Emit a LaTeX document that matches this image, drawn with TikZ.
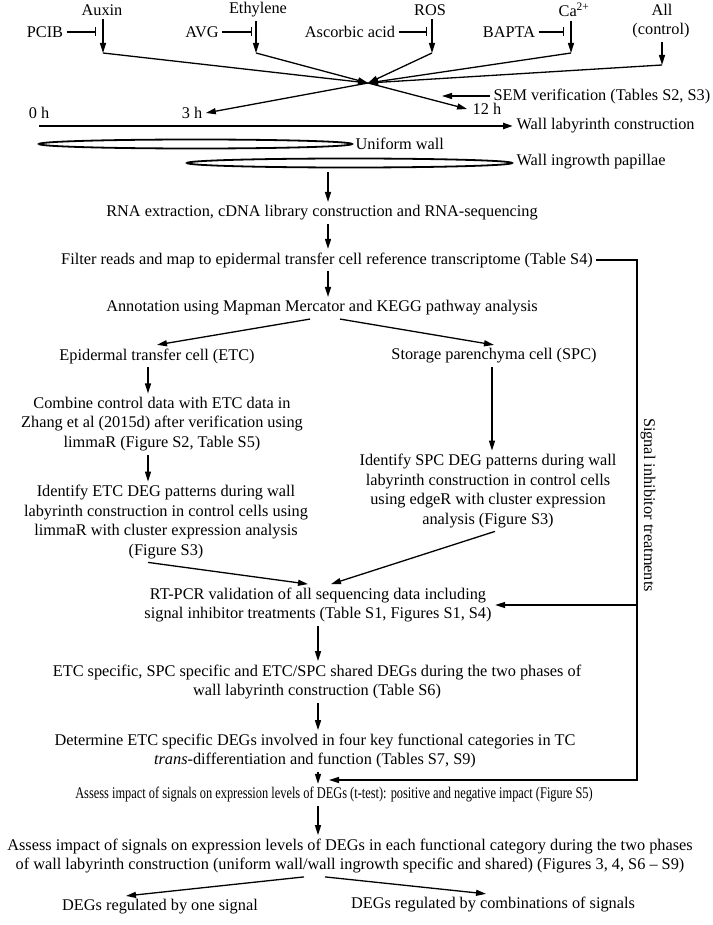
\documentclass[tikz,border=0pt]{standalone}
\usepackage{graphicx}
\usepackage{fontspec}
\setmainfont{Liberation Serif}
\usetikzlibrary{arrows.meta, positioning, calc}

\begin{document}
\begin{tikzpicture}[x=1pt, y=-1pt, line width=1.3pt,
    >={Triangle[length=10pt,width=6pt]},
    every node/.style={font=\fontsize{16.3}{19.5}\selectfont, inner sep=3pt},
    txt/.style={align=center},
    inh/.style={-{Bar[width=9pt]}},
    ring/.style={line width=1.8pt}]
    \useasboundingbox (0,0) rectangle (712,925);

    % Signals and their inhibitors
    \node (aux) at (102,10) {Auxin};
    \node (eth) at (258,10) {Ethylene};
    \node (ros) at (430,10) {ROS};
    \node (ca) at (574,10) {Ca\textsuperscript{2+}};
    \node (all) at (662,10) {All};
    \node (ctl) at (661,31) {(control)};
    \node (pcib) at (45,32) {PCIB};
    \node (avg) at (202,32) {AVG};
    \node (asc) at (350,32) {Ascorbic acid};
    \node (bapta) at (509,32) {BAPTA};

    \coordinate (b1) at (96,32);
    \coordinate (b2) at (252,32);
    \coordinate (b3) at (427,32);
    \coordinate (b4) at (564,32);
    \draw[inh] (pcib.east) -- (b1);
    \draw[inh] (avg.east) -- (b2);
    \draw[inh] (asc.east) -- (b3);
    \draw[inh] (bapta.east) -- (b4);

    \coordinate (a1) at (103,53);
    \coordinate (a2) at (256,53);
    \coordinate (a3) at (432,53);
    \coordinate (a4) at (571,53);
    \coordinate (a5) at (662,65);
    \draw[->] (aux.south -| a1) -- (a1);
    \draw[->] (eth.south -| a2) -- (a2);
    \draw[->] (ros.south -| a3) -- (a3);
    \draw[->] (ca.south -| a4) -- (a4);
    \draw[->] (ctl.south -| a5) -- (a5);

    % Converging treatments
    \coordinate (x) at (368,83);
    \draw[->] (a1) -- (x);
    \draw[->] (a2) -- (x);
    \draw[->] (a3) -- (x);
    \draw[->] (a4) -- (x);
    \draw[->] (a5) -- (x);

    % Time line
    \node (t0) at (39,113) {0 h};
    \node (t3) at (192,113) {3 h};
    \node (t12) at (487,109) {12 h};
    \draw[->] (x) -- (t3.east);
    \draw[->] (x) -- ([xshift=-2pt]t12.west);

    \node[anchor=west] (sem) at (490,96) {SEM verification (Tables S2, S3)};
    \coordinate (s0) at (442,96);
    \draw[->] (sem.west) -- (s0);

    \coordinate (w0) at (39,126);
    \node[anchor=west] (wlc) at (513,126) {Wall labyrinth construction};
    \draw[->, line width=2.2pt] (w0) -- (wlc.west);

    % Phases
    \draw[ring] (195.5,144) ellipse [x radius=156.5, y radius=4.5];
    \node[anchor=west] (uw) at (352,144) {Uniform wall};
    \draw[ring] (349.5,163) ellipse [x radius=162.5, y radius=4.5];
    \node[anchor=west] (wip) at (513,162) {Wall ingrowth papillae};

    % Arrow columns
    \coordinate (up) at (328,0);
    \coordinate (lo) at (318,0);
    \coordinate (lf) at (148,0);
    \coordinate (rt) at (492,0);

    % Sequencing and annotation
    \node[txt] (rna) at (322,213) {RNA extraction, cDNA library construction and RNA-sequencing};
    \node[txt] (flt) at (327,260) {Filter reads and map to epidermal transfer cell reference transcriptome (Table S4)};
    \node[txt] (ann) at (322,308) {Annotation using Mapman Mercator and KEGG pathway analysis};
    \coordinate (e0) at (328,172);
    \draw[->] (e0) -- (rna.north -| up);
    \draw[->] (rna.south -| up) -- (flt.north -| up);
    \draw[->] (flt.south -| up) -- (ann.north -| up);

    % Two cell types
    \node[txt] (etc) at (157,356) {Epidermal transfer cell (ETC)};
    \node[txt] (spc) at (494,356) {Storage parenchyma cell (SPC)};
    \draw[->] ([xshift=-12pt]ann.south) -- (etc.north);
    \draw[->] ([xshift=18pt]ann.south) -- (spc.north);

    \node[txt] (cmb) at (162,424) {Combine control data with ETC data in\\Zhang et al (2015d) after verification using\\limmaR (Figure S2, Table S5)};
    \node[txt] (idetc) at (166,522) {Identify ETC DEG patterns during wall\\labyrinth construction  in control cells using\\limmaR with cluster expression analysis\\(Figure S3)};
    \node[txt] (idspc) at (488,491) {Identify SPC DEG patterns during wall\\labyrinth construction  in control cells\\using edgeR with cluster expression\\analysis (Figure S3)};
    \draw[->] (etc.south -| lf) -- (cmb.north -| lf);
    \draw[->] (cmb.south -| lf) -- (idetc.north -| lf);
    \draw[->] (spc.south -| rt) -- (idspc.north -| rt);

    % Validation and DEG analysis
    \node[txt] (rtp) at (318,605) {RT-PCR validation of all sequencing data including\\signal inhibitor treatments (Table S1, Figures S1, S4)};
    \draw[->] ([xshift=-18pt]idetc.south) -- ([xshift=-10pt]rtp.north);
    \draw[->] ([xshift=7pt]idspc.south) -- ([xshift=13pt]rtp.north);

    \node[txt] (spec) at (317,682) {ETC specific, SPC specific and ETC/SPC shared  DEGs during the two phases of\\wall labyrinth construction (Table S6)};
    \node[txt] (det) at (315,751) {Determine ETC specific DEGs involved in four key functional categories in TC\\\textit{trans}-differentiation and function (Tables S7, S9)};
    \node[txt] (as1) at (334,795) {\scalebox{0.76}[1]{Assess impact of signals on expression levels of DEGs (t-test): positive and negative impact (Figure S5)}};
    \node[txt] (as2) at (350,856) {Assess impact of signals on expression levels of DEGs in each functional category during the two phases\\of wall labyrinth construction (uniform wall/wall ingrowth specific and shared) (Figures 3, 4, S6 -- S9)};
    \draw[->] (rtp.south -| lo) -- (spec.north -| lo);
    \draw[->] (spec.south -| lo) -- (det.north -| lo);
    \draw[->] (det.south -| lo) -- (as1.north -| lo);
    \draw[->] (as1.south -| lo) -- (as2.north -| lo);

    % Outcomes
    \node[txt] (one) at (160,907) {DEGs regulated by one signal};
    \node[txt] (comb) at (493,905) {DEGs regulated by combinations of signals};
    \draw[->] ([xshift=-46pt]as2.south) -- ([xshift=-34pt]one.north);
    \draw[->] ([xshift=-25pt]as2.south) -- ([xshift=-7pt]comb.north);

    % Signal inhibitor treatments
    \coordinate (rb) at (637,780);
    \coordinate (ja) at (329,780);
    \draw[->] (flt.east) -| (rb) -- (ja);
    \draw[->] (rb |- rtp.east) -- (rtp.east);
    \node[rotate=-90] (sig) at (648,505) {Signal inhibitor treatments};
\end{tikzpicture}
\end{document}
